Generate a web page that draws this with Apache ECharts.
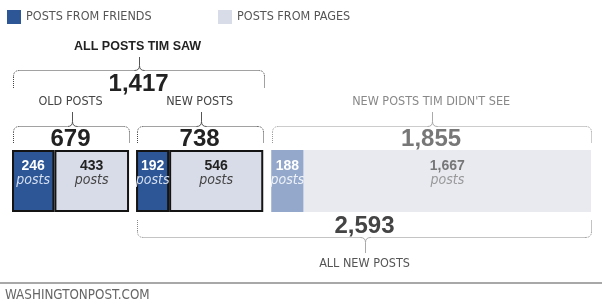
<!DOCTYPE html>
<html><head><meta charset="utf-8">
<script src="https://cdn.jsdelivr.net/npm/echarts@6/dist/echarts.min.js"></script>
<style>html,body{margin:0;padding:0;background:#fff}#c{width:602px;height:308px}</style>
</head><body><div id="c"></div><script>
// ---- data ----
const legendNames = ['POSTS FROM FRIENDS', 'POSTS FROM PAGES'];
const groupNames = ['OLD POSTS', 'NEW POSTS', "NEW POSTS TIM DIDN'T SEE"];
const friendsPosts = [246, 192, 188];
const pagesPosts = [433, 546, 1667];
const sawTitle = 'ALL POSTS TIM SAW';
const allNewTitle = 'ALL NEW POSTS';
const sourceText = 'WASHINGTONPOST.COM';
const unitText = 'posts';

// ---- styles / layout ----
const NARROW = "'Liberation Sans Narrow','DejaVu Sans Condensed','Noto Sans',sans-serif";
const WIDE = "'Liberation Sans',Arial,sans-serif";
const fmt = n => n.toLocaleString('en-US');
const totals = friendsPosts.map((f, i) => f + pagesPosts[i]);
const seen = [true, true, false];
const left0 = 12, gaps = [7, 8], right0 = 591;
const scale = (right0 - left0 - gaps[0] - gaps[1]) / totals.reduce((a, b) => a + b, 0);
const widths = totals.map(t => t * scale);
const lefts = [];
{ let x = left0; totals.forEach((t, i) => { lefts.push(x); x += widths[i] + (gaps[i] || 0); }); }
const barTop = 150, barH = 62;
const friendsColors = ['#2c5696', '#2c5696', '#93a8cb'];
const pagesColors = ['#d8dce8', '#d8dce8', '#e8eaf0'];
const friendsLabel = [['#ffffff', '#d6dff0'], ['#ffffff', '#d6dff0'], ['#ffffff', '#eef2f8']];
const pagesLabel = [['#222222', '#444444'], ['#222222', '#444444'], ['#777777', '#999999']];

function makeLabel(cols) {
  return {
    show: true, position: 'insideTop', distance: 9,
    formatter: p => '{n|' + fmt(p.value) + '}\n{p|' + unitText + '}',
    rich: {
      n: { fontFamily: WIDE, fontWeight: 'bold', fontSize: 14, color: cols[0], lineHeight: 14 },
      p: { fontFamily: NARROW, fontStyle: 'italic', fontSize: 14, color: cols[1], lineHeight: 14 }
    }
  };
}

const grids = [], xAxes = [], yAxes = [], series = [];
totals.forEach((t, i) => {
  grids.push({ left: lefts[i], top: barTop, width: widths[i], height: barH });
  xAxes.push({ gridIndex: i, type: 'value', min: 0, max: t, show: false });
  yAxes.push({ gridIndex: i, type: 'category', data: [groupNames[i]], show: false });
  const border = seen[i] ? { borderColor: '#141414', borderWidth: 2 } : { borderWidth: 0 };
  series.push({
    name: legendNames[0], type: 'bar', xAxisIndex: i, yAxisIndex: i, stack: 's' + i,
    barWidth: '100%', data: [friendsPosts[i]], silent: true,
    itemStyle: Object.assign({ color: friendsColors[i] }, border),
    label: makeLabel(friendsLabel[i])
  });
  series.push({
    name: legendNames[1], type: 'bar', xAxisIndex: i, yAxisIndex: i, stack: 's' + i,
    barWidth: '100%', data: [pagesPosts[i]], silent: true,
    itemStyle: Object.assign({ color: pagesColors[i] }, border),
    label: makeLabel(pagesLabel[i])
  });
});

// ---- annotations ----
const graphics = [];
function text(x, y, str, font, color, align) {
  graphics.push({
    type: 'text', x: x, y: y, silent: true,
    style: { text: str, font: font, fill: color, align: align || 'center', textAlign: align || 'center',
      verticalAlign: 'middle', textVerticalAlign: 'middle' }
  });
}
function brace(x1, x2, yLine, yEnd, yTip, dotColor, solidColor) {
  x1 = Math.round(x1) + 0.5; x2 = Math.round(x2) - 0.5;
  yLine = yLine + 0.5;
  const s = yEnd > yLine ? 1 : -1, r = 6, t = 5;
  const cx = Math.round((x1 + x2) / 2) + 0.5;
  const dot = { stroke: dotColor, fill: null, lineWidth: 1, lineDash: [1, 1] };
  const sol = { stroke: solidColor, fill: null, lineWidth: 1 };
  const L = (a, b, c, d, st) => graphics.push({ type: 'line', silent: true, shape: { x1: a, y1: b, x2: c, y2: d }, style: st });
  const Q = (a, b, c, d, e, f, st) => graphics.push({ type: 'bezierCurve', silent: true, shape: { x1: a, y1: b, cpx1: c, cpy1: d, x2: e, y2: f }, style: st });
  L(x1, yEnd, x1, yLine + s * r, dot);
  Q(x1, yLine + s * r, x1, yLine, x1 + r, yLine, dot);
  L(x1 + r, yLine, cx - t, yLine, dot);
  Q(cx - t, yLine, cx, yLine, cx, yLine - s * t, sol);
  L(cx, yLine - s * t, cx, yTip, sol);
  Q(cx + t, yLine, cx, yLine, cx, yLine - s * t, sol);
  L(cx + t, yLine, x2 - r, yLine, dot);
  Q(x2 - r, yLine, x2, yLine, x2, yLine + s * r, dot);
  L(x2, yLine + s * r, x2, yEnd, dot);
}
const groupCx = lefts.map((l, i) => l + widths[i] / 2);
const seenL = lefts[0], seenR = lefts[1] + widths[1];
const newL = lefts[1], newR = lefts[2] + widths[2];

text((seenL + seenR) / 2, 47, sawTitle, 'bold 12.5px ' + WIDE, '#222');
brace(seenL + 1, seenR + 2, 70, 88, 57, '#444', '#555');
text((seenL + seenR) / 2 + 1, 84, fmt(totals[0] + totals[1]), 'bold 24px ' + WIDE, '#222');

const nameCols = ['#444', '#444', '#888'];
const numCols = ['#222', '#222', '#777'];
const braceDot = ['#444', '#444', '#999'];
const braceSol = ['#555', '#555', '#aaa'];
totals.forEach((t, i) => {
  text(groupCx[i], 102, groupNames[i], '12.5px ' + NARROW, nameCols[i]);
  brace(lefts[i] + 1, lefts[i] + widths[i] + 1, 126, 143, 112, braceDot[i], braceSol[i]);
  text(groupCx[i], 139, fmt(t), 'bold 24px ' + WIDE, numCols[i]);
});

brace(newL + 1, newR + 1, 237, 220, 253, '#888', '#aaa');
text((newL + newR) / 2 + 1, 226, fmt(totals[1] + totals[2]), 'bold 24px ' + WIDE, '#444');
text((newL + newR) / 2 + 1, 264, allNewTitle, '12.5px ' + NARROW, '#555');
graphics.push({ type: 'line', silent: true, shape: { x1: 0, y1: 283, x2: 602, y2: 283 }, style: { stroke: '#a8a8a8', lineWidth: 2 } });
text(5, 296, sourceText, '13.3px ' + NARROW, '#666', 'left');

const legendBase = {
  top: 10, padding: 0, icon: 'rect', itemWidth: 14, itemHeight: 14, selectedMode: false,
  itemStyle: { borderWidth: 0 },
  textStyle: { fontFamily: NARROW, fontSize: 12.5, color: '#555' }
};

const chart = echarts.init(document.getElementById('c'), null, { renderer: 'canvas' });
chart.setOption({
  backgroundColor: '#fff',
  animation: false,
  legend: [
    Object.assign({ left: 7, data: [legendNames[0]] }, legendBase),
    Object.assign({ left: 218, data: [legendNames[1]] }, legendBase)
  ],
  grid: grids, xAxis: xAxes, yAxis: yAxes, series: series,
  graphic: graphics
});
</script></body></html>
